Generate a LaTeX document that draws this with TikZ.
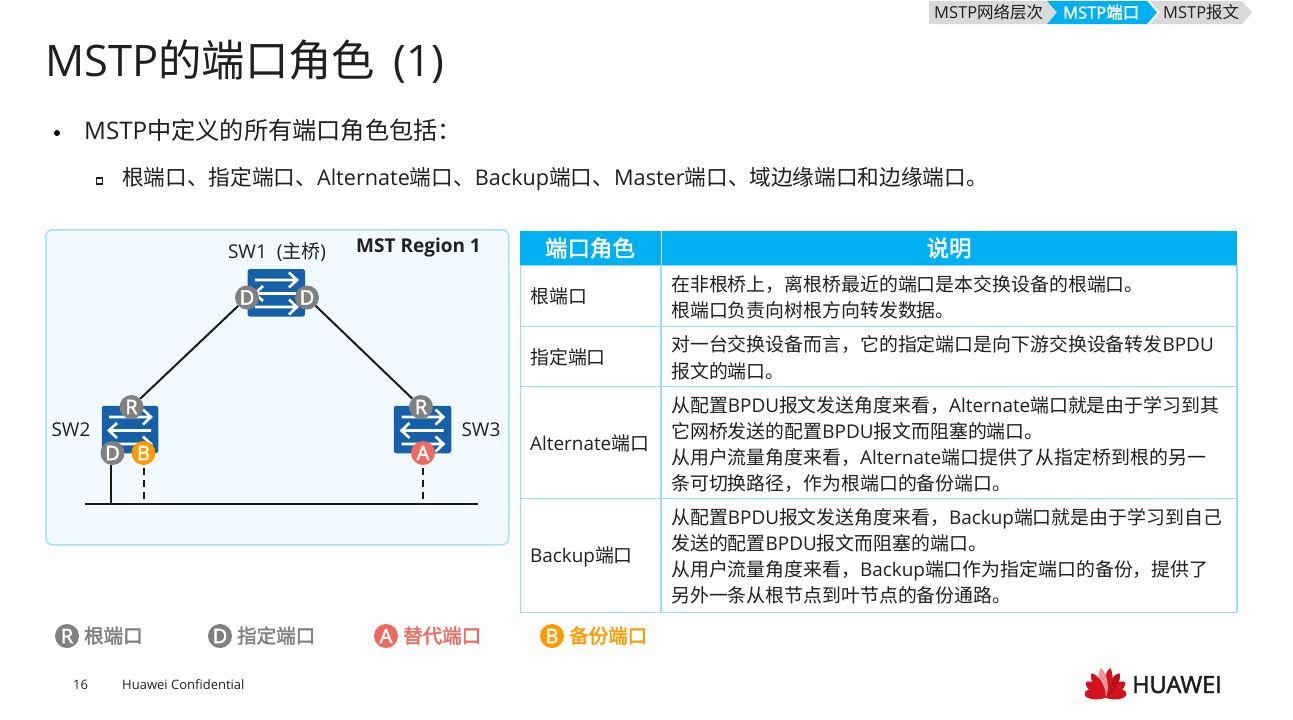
\documentclass[tikz,border=0pt]{standalone}
\usepackage{fontspec}
\setmainfont{Noto Sans CJK SC}
\newfontfamily\en{Open Sans}
\newfontfamily\enmed[FakeBold=2]{Open Sans}
\newfontfamily\cjkmed[FakeBold=2]{Noto Sans CJK SC}
\newcommand\E[1]{{\en #1}}
\newcommand\M[1]{{\enmed #1}}
\definecolor{ink}{HTML}{1F1F1F}
\definecolor{hblue}{HTML}{00B0F0}
\definecolor{tline}{HTML}{96DCFB}
\definecolor{regionline}{HTML}{A6E1FA}
\definecolor{regionfill}{HTML}{F2FAFF}
\definecolor{swblue}{HTML}{1560A8}
\definecolor{portgray}{HTML}{808080}
\definecolor{portred}{HTML}{EE6A60}
\definecolor{portorange}{HTML}{FF9900}
\definecolor{crumb}{HTML}{D9D9D9}
\definecolor{hwred}{HTML}{D2121C}
\tikzset{
 txt/.style={inner sep=0pt,anchor=base west,text=ink,font=\fontsize{#1}{#1}\selectfont},
 txt/.default=19,
 med/.style={inner sep=0pt,anchor=base west,text=#1,font=\fontsize{19.5}{19.5}\selectfont\cjkmed},
 cen/.style={inner sep=0pt,anchor=center,text=ink,font=\fontsize{#1}{#1}\selectfont},
 head/.style={inner sep=0pt,anchor=center,text=white,font=\fontsize{22.5}{22.5}\selectfont\cjkmed},
 swbox/.style={fill=swblue,rounded corners=2.5pt,draw=none,minimum width=#1,minimum height=47.5pt,inner sep=0pt},
 swbox/.default=57.5pt,
 port/.style={circle,fill=#1,draw=none,minimum size=24pt,inner sep=0pt,text=white,font=\fontsize{20}{20}\selectfont},
 link/.style={draw=black!90,line width=2pt},
 standby/.style={draw=black!90,line width=2pt,dash pattern=on 7pt off 5pt},
 arw/.style={draw=white,line width=2.6pt},
 tborder/.style={draw=tline,line width=1.3pt},
}
\newcommand\swarrows[2]{%
 \begin{scope}[shift={(#1,#2)}]
  \draw[arw] (-21,-13) -- (21,-13) (13,-20.5) -- (21,-13) -- (13,-5.5);
  \draw[arw] (-21,0.5) -- (21,0.5) (-13,-7) -- (-21,0.5) -- (-13,8);
  \draw[arw] (-21,14) -- (21,14) (13,6.5) -- (21,14) -- (13,21.5);
 \end{scope}}
\begin{document}
\begin{tikzpicture}[x=1pt,y=-1pt]
\useasboundingbox (0,0) rectangle (1293,720);
% breadcrumb
\fill[crumb] (929,1) -- (1047,1) -- (1057,12.5) -- (1047,24) -- (929,24) -- cycle;
\fill[hblue] (1047,1) -- (1147,1) -- (1157,12.5) -- (1147,24) -- (1047,24) -- (1057,12.5) -- cycle;
\fill[crumb] (1150,1) -- (1242,1) -- (1252,12.5) -- (1242,24) -- (1150,24) -- (1160,12.5) -- cycle;
\node[txt=16.5] (cr1) at (934,18.5) {\E{MSTP}网络层次};
\node[txt=16.5,text=white,font=\fontsize{16.5}{16.5}\selectfont\cjkmed] (cr2) at (1063,18.5) {\M{MSTP}端口};
\node[txt=16.5] (cr3) at (1163,18.5) {\E{MSTP}报文};
% title
\node[txt=43.4] (title) at (45,76) {\E{MSTP}的端口角色\E{\ \,(1)}};
% bullets
\fill[black] (57,133) circle (3);
\node[txt=24.2] (b1) at (84,139) {\E{MSTP}中定义的所有端口角色包括：};
\draw[ink,line width=1.2pt] (96.5,178) rectangle (102.5,184);
\node[txt=21.65] (b2) at (122,185.5) {根端口、指定端口、\E{Alternate}端口、\E{Backup}端口、\E{Master}端口、域边缘端口和边缘端口。};
% region
\node[draw=regionline,line width=1.6pt,fill=regionfill,rounded corners=7pt,minimum width=463pt,minimum height=315pt,anchor=north west,inner sep=0pt] (region) at (45,229) {};
\node[txt=19,font=\fontsize{19}{19}\selectfont\bfseries] (rname) at (356,252.5) {\E{MST Region 1}};
\node[cen=19] (l1) at (277,252) {\E{SW1\ \ (}主桥\E{)}};
\node[cen=19] (l2) at (71,430) {\E{SW2}};
\node[cen=19] (l3) at (481,430) {\E{SW3}};
\node[swbox] (sw1) at (276.3,292.8) {};
\node[swbox=56.5pt] (sw2) at (130,429.5) {};
\node[swbox] (sw3) at (422.5,429.5) {};
\swarrows{276}{293}
\swarrows{130}{430}
\swarrows{422.5}{430}
\node[port=portgray] (d1) at (247,297.5) {\M{D}};
\node[port=portgray] (d2) at (307,297.5) {\M{D}};
\node[port=portgray] (r2) at (131.5,407) {\M{R}};
\node[port=portgray] (d3) at (112.5,453) {\M{D}};
\node[port=portorange] (b3) at (143.5,453) {\M{B}};
\node[port=portgray] (r3) at (421,407) {\M{R}};
\node[port=portred] (a3) at (423,453) {\M{A}};
\draw[link] (d1) -- (r2);
\draw[link] (d2) -- (r3);
\coordinate (busl) at (85,504);
\coordinate (busr) at (478,504);
\coordinate (bd) at (110.7,504);
\coordinate (bb) at (143.5,504);
\coordinate (ba) at (422.7,504);
\coordinate (db) at (143.5,468);
\coordinate (da) at (422.7,468);
\coordinate (dd) at (110.7,465);
\draw[link] (busl) -- (busr);
\draw[link] (dd) -- (bd);
\draw[standby] (db) -- (bb);
\draw[standby] (da) -- (ba);
% table
\node[fill=hblue,minimum width=717pt,minimum height=35pt,anchor=north west,inner sep=0pt] (hdr) at (520,230.5) {};
\draw[white,line width=1pt] (661,231) -- (661,265);
\draw[tborder] (520.5,265.5) rectangle (1237,612.5);
\draw[tborder] (661,265.5) -- (661,612.5);
\draw[tborder] (520.5,326.5) -- (1237,326.5);
\draw[tborder] (520.5,386.5) -- (1237,386.5);
\draw[tborder] (520.5,498.5) -- (1237,498.5);
\node[head] (h1) at (590,248) {端口角色};
\node[head] (h2) at (949,248) {说明};
\node[txt=18.9] (t1a) at (530,303.5) {根端口};
\node[txt=18.9] (t1b) at (671,291) {在非根桥上，离根桥最近的端口是本交换设备的根端口。};
\node[txt=18.9] (t1c) at (671,317) {根端口负责向树根方向转发数据。};
\node[txt=18.9] (t2a) at (530,364) {指定端口};
\node[txt=18.9] (t2b) at (671,351) {对一台交换设备而言，它的指定端口是向下游交换设备转发\E{BPDU}};
\node[txt=18.9] (t2c) at (671,378) {报文的端口。};
\node[txt=18.9] (t3a) at (530,450) {\E{Alternate}端口};
\node[txt=18.9] (t3b) at (671,412) {从配置\E{BPDU}报文发送角度来看，\E{Alternate}端口就是由于学习到其};
\node[txt=18.9] (t3c) at (671,438) {它网桥发送的配置\E{BPDU}报文而阻塞的端口。};
\node[txt=18.9] (t3d) at (671,464) {从用户流量角度来看，\E{Alternate}端口提供了从指定桥到根的另一};
\node[txt=18.9] (t3e) at (671,490) {条可切换路径，作为根端口的备份端口。};
\node[txt=18.9] (t4a) at (530,562) {\E{Backup}端口};
\node[txt=18.9] (t4b) at (671,524) {从配置\E{BPDU}报文发送角度来看，\E{Backup}端口就是由于学习到自己};
\node[txt=18.9] (t4c) at (671,550) {发送的配置\E{BPDU}报文而阻塞的端口。};
\node[txt=18.9] (t4d) at (671,576) {从用户流量角度来看，\E{Backup}端口作为指定端口的备份，提供了};
\node[txt=18.9] (t4e) at (671,602.5) {另外一条从根节点到叶节点的备份通路。};
% legend
\node[port=portgray] (k1) at (67,636) {\M{R}};
\node[med=portgray] (k1t) at (84,643) {根端口};
\node[port=portgray] (k2) at (220,636) {\M{D}};
\node[med=portgray] (k2t) at (237,643) {指定端口};
\node[port=portred] (k3) at (386,636) {\M{A}};
\node[med=portred] (k3t) at (403,643) {替代端口};
\node[port=portorange] (k4) at (552,636) {\M{B}};
\node[med=portorange] (k4t) at (569,643) {备份端口};
% footer
\node[txt=13] (pg) at (73,689) {\E{16}};
\node[txt=13] (conf) at (122,689) {\E{Huawei Confidential}};
% logo
\foreach \a/\r/\c in {-78/21/hwred,-52/25/hwred,-30/28/hwred!85!black,-9/30/hwred,9/30/hwred!45!white,30/28/hwred,52/25/hwred,78/21/hwred}{
 \fill[\c,rotate around={\a:(1105.5,697.5)}] (1105.5,697.5) .. controls (1100.5,692) and (1099,675) .. (1105.5,{697.5-\r}) .. controls (1112,675) and (1110.5,692) .. (1105.5,697.5) -- cycle;
}
\node[txt=23.5] (hw) at (1132,693) {\M{HUAWEI}};
\end{tikzpicture}
\end{document}
